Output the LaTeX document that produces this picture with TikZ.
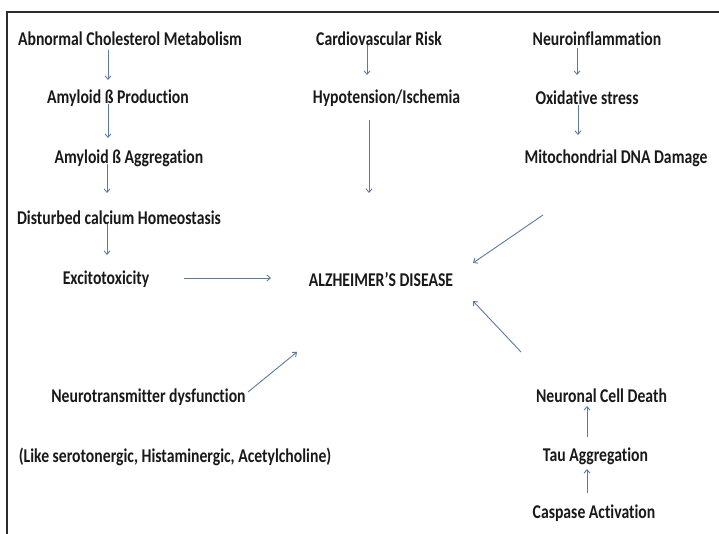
\documentclass[tikz,border=0pt]{standalone}
\usepackage{fontspec}
\setmainfont[FakeStretch=0.805,Ligatures=NoCommon]{Carlito}
\usetikzlibrary{arrows.meta}
\definecolor{arrowblue}{RGB}{90,122,160}
\definecolor{txt}{RGB}{25,25,25}
\definecolor{frame}{RGB}{45,45,45}
\tikzset{
  lbl/.style={inner sep=0pt, text=txt, font=\fontsize{19.5}{21}\selectfont\bfseries},
  arr/.style={draw=arrowblue, line width=0.9pt, -{Straight Barb[length=3.5pt,width=6pt]}}
}
\begin{document}
\begin{tikzpicture}[x=1pt,y=-1pt]
\useasboundingbox (0,0) rectangle (719,534);
\fill[white] (0,0) rectangle (719,534);
\draw[frame, line width=1.3pt] (7,534) coordinate (fbl) -- (7,12) coordinate (ftl) -- (719,12) coordinate (ftr);
% nodes
\node[lbl] (abn) at (130,39) {Abnormal Cholesterol Metabolism};
\node[lbl] (amyp) at (118,98) {Amyloid ß Production};
\node[lbl] (amya) at (129,158) {Amyloid ß Aggregation};
\node[lbl] (dist) at (119,218) {Disturbed calcium Homeostasis};
\node[lbl] (exc) at (106,279) {Excitotoxicity};
\node[lbl] (ad) at (381,279) {ALZHEIMER’S DISEASE};
\node[lbl] (neurot) at (148.5,397) {Neurotransmitter dysfunction};
\node[lbl] (like) at (175,457) {(Like serotonergic, Histaminergic, Acetylcholine)};
\node[lbl] (cardio) at (379,39) {Cardiovascular Risk};
\node[lbl] (hypo) at (386.5,98) {Hypotension/Ischemia};
\node[lbl] (neuroinf) at (597,39) {Neuroinflammation};
\node[lbl] (oxi) at (587,98) {Oxidative stress};
\node[lbl] (mito) at (616,158) {Mitochondrial DNA Damage};
\node[lbl] (neuronal) at (601.5,396) {Neuronal Cell Death};
\node[lbl] (tau) at (595.5,456) {Tau Aggregation};
\node[lbl] (casp) at (594,513) {Caspase Activation};
% arrow end points
\coordinate (a1s) at (108,50);  \coordinate (a1e) at (108,80);
\coordinate (a2s) at (108,104); \coordinate (a2e) at (108,138);
\coordinate (a3s) at (107,164); \coordinate (a3e) at (107,193);
\coordinate (a4s) at (107,224); \coordinate (a4e) at (107,255);
\coordinate (a5s) at (184,278); \coordinate (a5e) at (271,278);
\coordinate (a6s) at (248,392); \coordinate (a6e) at (297,352);
\coordinate (a7s) at (367,45);  \coordinate (a7e) at (367,75);
\coordinate (a8s) at (369,120); \coordinate (a8e) at (369,193);
\coordinate (a9s) at (577,48);  \coordinate (a9e) at (577,75);
\coordinate (a10s) at (578,105); \coordinate (a10e) at (578,135);
\coordinate (a11s) at (543,215); \coordinate (a11e) at (473,263);
\coordinate (a12s) at (521,352); \coordinate (a12e) at (473,301);
\coordinate (a13s) at (587,437); \coordinate (a13e) at (587,406);
\coordinate (a14s) at (587,493); \coordinate (a14e) at (587,469);
\foreach \i in {1,...,14} { \draw[arr] (a\i s) -- (a\i e); }
\end{tikzpicture}
\end{document}
